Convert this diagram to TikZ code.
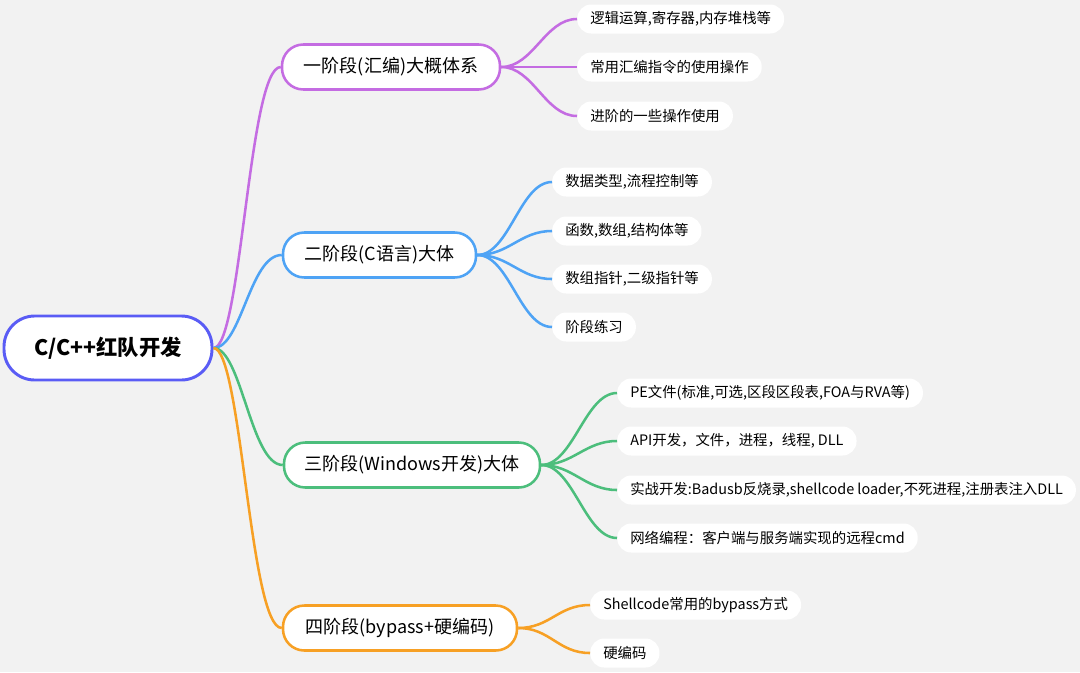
\documentclass[tikz,border=0pt]{standalone}
\usepackage{fontspec}
\setmainfont{Noto Sans CJK SC}
\definecolor{bgc}{RGB}{242,242,242}
\definecolor{cr}{RGB}{90,92,245}
\definecolor{c1}{RGB}{196,108,226}
\definecolor{c2}{RGB}{78,163,245}
\definecolor{c3}{RGB}{76,190,124}
\definecolor{c4}{RGB}{247,160,36}
\begin{document}
\begin{tikzpicture}[x=0.75pt,y=-0.75pt,
  rootbox/.style={draw=cr, line width=2.2pt, fill=white, rounded corners=23pt, minimum height=48pt, minimum width=156pt, inner xsep=0pt, font=\fontsize{16pt}{19pt}\selectfont\bfseries},
  stage/.style={draw=#1, line width=1.9pt, fill=white, rounded corners=16pt, minimum height=33.75pt, inner xsep=0pt, font=\fontsize{13.5pt}{16pt}\selectfont},
  leaf/.style={fill=white, rounded corners=10.5pt, minimum height=21.75pt, inner xsep=9.75pt, inner ysep=0pt, anchor=west, font=\fontsize{10.8pt}{12pt}\selectfont},
  link/.style={draw=#1, line width=1.9pt}]
\fill[bgc] (0,0) rectangle (1080,672);
\useasboundingbox (0,0) rectangle (1080,672);

\node[rootbox] (root) at (108,348) {C/C++红队开发};

\node[stage=c1, minimum width=163.5pt] (s1) at (391,67) {一阶段(汇编)大概体系};
\node[stage=c2, minimum width=144.75pt] (s2) at (379.5,255) {二阶段(C语言)大体};
\node[stage=c3, minimum width=192pt] (s3) at (412,465) {三阶段(Windows开发)大体};
\node[stage=c4, minimum width=175.5pt] (s4) at (400,628) {四阶段(bypass+硬编码)};

\node[leaf] (l1a) at (577,19) {逻辑运算,寄存器,内存堆栈等};
\node[leaf] (l1b) at (577,67) {常用汇编指令的使用操作};
\node[leaf] (l1c) at (577,116) {进阶的一些操作使用};

\node[leaf] (l2a) at (552,182) {数据类型,流程控制等};
\node[leaf] (l2b) at (552,231) {函数,数组,结构体等};
\node[leaf] (l2c) at (552,279) {数组指针,二级指针等};
\node[leaf] (l2d) at (552,327) {阶段练习};

\node[leaf] (l3a) at (617,393) {PE文件(标准,可选,区段区段表,FOA与RVA等)};
\node[leaf] (l3b) at (617,441) {API开发，文件，进程，线程, DLL};
\node[leaf] (l3c) at (617,490) {实战开发:Badusb反烧录,shellcode loader,不死进程,注册表注入DLL};
\node[leaf] (l3d) at (617,538) {网络编程：客户端与服务端实现的远程cmd};

\node[leaf] (l4a) at (590,605) {Shellcode常用的bypass方式};
\node[leaf] (l4b) at (590,653) {硬编码};

\draw[link=c1] (root.east) .. controls +(28,0) and +(-32,0) .. (s1.west);
\draw[link=c2] (root.east) .. controls +(28,0) and +(-32,0) .. (s2.west);
\draw[link=c3] (root.east) .. controls +(28,0) and +(-32,0) .. (s3.west);
\draw[link=c4] (root.east) .. controls +(28,0) and +(-32,0) .. (s4.west);

\foreach \l in {l1a,l1b,l1c}
  \draw[link=c1] (s1.east) .. controls +(32,0) and +(-32,0) .. (\l.west);
\foreach \l in {l2a,l2b,l2c,l2d}
  \draw[link=c2] (s2.east) .. controls +(32,0) and +(-32,0) .. (\l.west);
\foreach \l in {l3a,l3b,l3c,l3d}
  \draw[link=c3] (s3.east) .. controls +(32,0) and +(-32,0) .. (\l.west);
\foreach \l in {l4a,l4b}
  \draw[link=c4] (s4.east) .. controls +(32,0) and +(-32,0) .. (\l.west);
\end{tikzpicture}
\end{document}
